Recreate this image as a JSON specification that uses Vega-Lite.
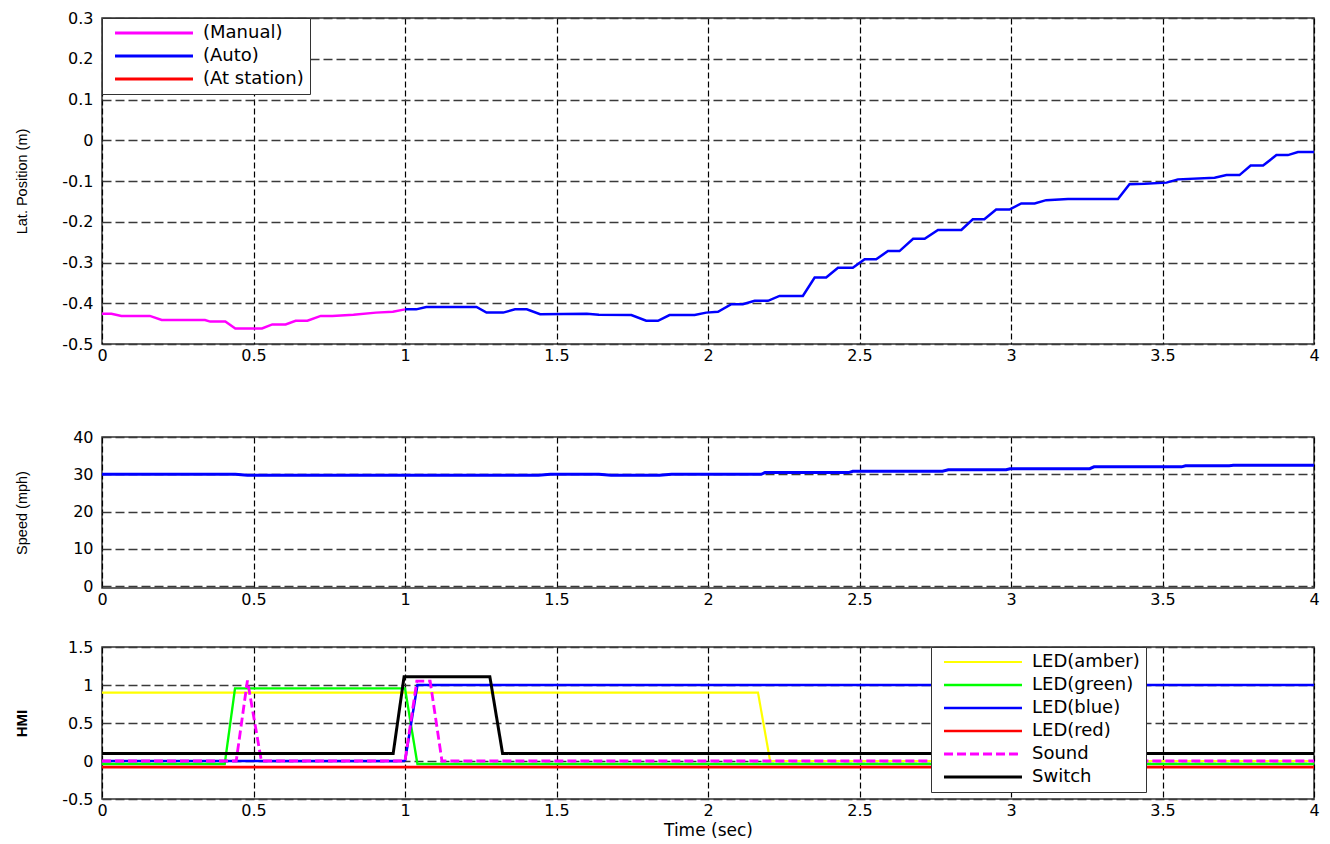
{
  "$schema": "https://vega.github.io/schema/vega-lite/v6.json",
  "background": "white",
  "padding": {"left": 13, "top": 9, "right": 10, "bottom": 2},
  "bounds": "flush",
  "spacing": 93,
  "resolve": {"scale": {"color": "independent"}, "legend": {"color": "independent"}},
  "config": {
    "font": "DejaVu Sans",
    "view": {"stroke": "#333333", "strokeWidth": 1.5},
    "axis": {
      "grid": true, "domain": false, "ticks": false,
      "labelFont": "DejaVu Sans", "labelFontSize": 16, "labelColor": "#000000",
      "labelOverlap": false, "labelFlush": false,
      "titleFont": "Liberation Sans", "titleFontSize": 14.5, "titleFontWeight": "normal", "titleColor": "#000000"
    },
    "axisX": {"gridColor": "#000000", "gridDash": [6, 3], "gridWidth": 1.2, "labelPadding": 3},
    "axisY": {"gridColor": "#3a3a3a", "gridDash": [9, 4], "gridWidth": 1.5, "labelPadding": 9, "minExtent": 50, "maxExtent": 50, "titlePadding": 23},
    "legend": {
      "title": null, "strokeColor": "#333333", "fillColor": "#ffffff", "padding": 6,
      "symbolType": "M-8,0H8", "symbolSize": 95, "symbolStrokeWidth": 3, "symbolOffset": 37,
      "labelFont": "DejaVu Sans", "labelFontSize": 18, "labelColor": "#000000", "labelOffset": 40,
      "rowPadding": 5, "labelLimit": 300
    }
  },
  "datasets": {
    "lat": [
      {"t": 0, "v": -0.426, "mode": "(Manual)"},
      {"t": 0.031, "v": -0.426, "mode": "(Manual)"},
      {"t": 0.064, "v": -0.431, "mode": "(Manual)"},
      {"t": 0.158, "v": -0.431, "mode": "(Manual)"},
      {"t": 0.197, "v": -0.441, "mode": "(Manual)"},
      {"t": 0.34, "v": -0.441, "mode": "(Manual)"},
      {"t": 0.357, "v": -0.445, "mode": "(Manual)"},
      {"t": 0.407, "v": -0.445, "mode": "(Manual)"},
      {"t": 0.44, "v": -0.462, "mode": "(Manual)"},
      {"t": 0.528, "v": -0.462, "mode": "(Manual)"},
      {"t": 0.562, "v": -0.452, "mode": "(Manual)"},
      {"t": 0.606, "v": -0.452, "mode": "(Manual)"},
      {"t": 0.639, "v": -0.443, "mode": "(Manual)"},
      {"t": 0.678, "v": -0.443, "mode": "(Manual)"},
      {"t": 0.722, "v": -0.431, "mode": "(Manual)"},
      {"t": 0.76, "v": -0.431, "mode": "(Manual)"},
      {"t": 0.83, "v": -0.428, "mode": "(Manual)"},
      {"t": 0.904, "v": -0.423, "mode": "(Manual)"},
      {"t": 0.96, "v": -0.421, "mode": "(Manual)"},
      {"t": 1.0, "v": -0.415, "mode": "(Manual)"},
      {"t": 1.0, "v": -0.415, "mode": "(Auto)"},
      {"t": 1.037, "v": -0.415, "mode": "(Auto)"},
      {"t": 1.07, "v": -0.409, "mode": "(Auto)"},
      {"t": 1.236, "v": -0.409, "mode": "(Auto)"},
      {"t": 1.269, "v": -0.423, "mode": "(Auto)"},
      {"t": 1.324, "v": -0.423, "mode": "(Auto)"},
      {"t": 1.363, "v": -0.415, "mode": "(Auto)"},
      {"t": 1.402, "v": -0.415, "mode": "(Auto)"},
      {"t": 1.446, "v": -0.427, "mode": "(Auto)"},
      {"t": 1.6, "v": -0.426, "mode": "(Auto)"},
      {"t": 1.64, "v": -0.428, "mode": "(Auto)"},
      {"t": 1.747, "v": -0.429, "mode": "(Auto)"},
      {"t": 1.796, "v": -0.443, "mode": "(Auto)"},
      {"t": 1.835, "v": -0.443, "mode": "(Auto)"},
      {"t": 1.873, "v": -0.429, "mode": "(Auto)"},
      {"t": 1.956, "v": -0.429, "mode": "(Auto)"},
      {"t": 1.994, "v": -0.423, "mode": "(Auto)"},
      {"t": 2.033, "v": -0.421, "mode": "(Auto)"},
      {"t": 2.077, "v": -0.4025, "mode": "(Auto)"},
      {"t": 2.115, "v": -0.4025, "mode": "(Auto)"},
      {"t": 2.154, "v": -0.394, "mode": "(Auto)"},
      {"t": 2.198, "v": -0.394, "mode": "(Auto)"},
      {"t": 2.236, "v": -0.382, "mode": "(Auto)"},
      {"t": 2.313, "v": -0.382, "mode": "(Auto)"},
      {"t": 2.352, "v": -0.337, "mode": "(Auto)"},
      {"t": 2.39, "v": -0.337, "mode": "(Auto)"},
      {"t": 2.429, "v": -0.313, "mode": "(Auto)"},
      {"t": 2.478, "v": -0.313, "mode": "(Auto)"},
      {"t": 2.517, "v": -0.292, "mode": "(Auto)"},
      {"t": 2.555, "v": -0.292, "mode": "(Auto)"},
      {"t": 2.594, "v": -0.272, "mode": "(Auto)"},
      {"t": 2.632, "v": -0.272, "mode": "(Auto)"},
      {"t": 2.677, "v": -0.242, "mode": "(Auto)"},
      {"t": 2.715, "v": -0.242, "mode": "(Auto)"},
      {"t": 2.759, "v": -0.22, "mode": "(Auto)"},
      {"t": 2.836, "v": -0.22, "mode": "(Auto)"},
      {"t": 2.874, "v": -0.194, "mode": "(Auto)"},
      {"t": 2.912, "v": -0.194, "mode": "(Auto)"},
      {"t": 2.951, "v": -0.17, "mode": "(Auto)"},
      {"t": 2.995, "v": -0.17, "mode": "(Auto)"},
      {"t": 3.034, "v": -0.155, "mode": "(Auto)"},
      {"t": 3.078, "v": -0.155, "mode": "(Auto)"},
      {"t": 3.116, "v": -0.147, "mode": "(Auto)"},
      {"t": 3.188, "v": -0.144, "mode": "(Auto)"},
      {"t": 3.353, "v": -0.144, "mode": "(Auto)"},
      {"t": 3.391, "v": -0.108, "mode": "(Auto)"},
      {"t": 3.441, "v": -0.107, "mode": "(Auto)"},
      {"t": 3.513, "v": -0.104, "mode": "(Auto)"},
      {"t": 3.551, "v": -0.096, "mode": "(Auto)"},
      {"t": 3.672, "v": -0.092, "mode": "(Auto)"},
      {"t": 3.711, "v": -0.0855, "mode": "(Auto)"},
      {"t": 3.754, "v": -0.0855, "mode": "(Auto)"},
      {"t": 3.791, "v": -0.062, "mode": "(Auto)"},
      {"t": 3.832, "v": -0.062, "mode": "(Auto)"},
      {"t": 3.876, "v": -0.0365, "mode": "(Auto)"},
      {"t": 3.914, "v": -0.0365, "mode": "(Auto)"},
      {"t": 3.947, "v": -0.029, "mode": "(Auto)"},
      {"t": 4.0, "v": -0.029, "mode": "(Auto)"}
    ],
    "speed": [
      {"t": 0, "s": 30},
      {"t": 0.44, "s": 30},
      {"t": 0.48, "s": 29.75},
      {"t": 1.44, "s": 29.75},
      {"t": 1.48, "s": 30},
      {"t": 1.64, "s": 30},
      {"t": 1.68, "s": 29.75},
      {"t": 1.84, "s": 29.75},
      {"t": 1.88, "s": 30},
      {"t": 2.175, "s": 30},
      {"t": 2.188, "s": 30.45},
      {"t": 2.464, "s": 30.45},
      {"t": 2.478, "s": 30.8},
      {"t": 2.774, "s": 30.8},
      {"t": 2.793, "s": 31.2},
      {"t": 2.984, "s": 31.2},
      {"t": 2.997, "s": 31.5},
      {"t": 3.26, "s": 31.5},
      {"t": 3.274, "s": 32.0},
      {"t": 3.563, "s": 32.0},
      {"t": 3.576, "s": 32.3},
      {"t": 3.72, "s": 32.3},
      {"t": 3.734, "s": 32.4},
      {"t": 4.0, "s": 32.4}
    ],
    "hmi": [
      {"t": 0, "v": 0.9, "sig": "LED(amber)"},
      {"t": 2.165, "v": 0.9, "sig": "LED(amber)"},
      {"t": 2.205, "v": 0, "sig": "LED(amber)"},
      {"t": 4, "v": 0, "sig": "LED(amber)"},
      {"t": 0, "v": -0.04, "sig": "LED(green)"},
      {"t": 0.405, "v": -0.04, "sig": "LED(green)"},
      {"t": 0.439, "v": 0.955, "sig": "LED(green)"},
      {"t": 1.0, "v": 0.955, "sig": "LED(green)"},
      {"t": 1.041, "v": -0.04, "sig": "LED(green)"},
      {"t": 4, "v": -0.04, "sig": "LED(green)"},
      {"t": 0, "v": 0, "sig": "LED(blue)"},
      {"t": 1.0, "v": 0, "sig": "LED(blue)"},
      {"t": 1.041, "v": 1, "sig": "LED(blue)"},
      {"t": 4, "v": 1, "sig": "LED(blue)"},
      {"t": 0, "v": -0.08, "sig": "LED(red)"},
      {"t": 4, "v": -0.08, "sig": "LED(red)"},
      {"t": 0, "v": 0, "sig": "Sound"},
      {"t": 0.443, "v": 0, "sig": "Sound"},
      {"t": 0.48, "v": 1.06, "sig": "Sound"},
      {"t": 0.526, "v": 0, "sig": "Sound"},
      {"t": 1.0, "v": 0, "sig": "Sound"},
      {"t": 1.039, "v": 1.05, "sig": "Sound"},
      {"t": 1.083, "v": 1.05, "sig": "Sound"},
      {"t": 1.122, "v": 0, "sig": "Sound"},
      {"t": 4, "v": 0, "sig": "Sound"},
      {"t": 0, "v": 0.1, "sig": "Switch"},
      {"t": 0.961, "v": 0.1, "sig": "Switch"},
      {"t": 0.997, "v": 1.11, "sig": "Switch"},
      {"t": 1.28, "v": 1.11, "sig": "Switch"},
      {"t": 1.322, "v": 0.1, "sig": "Switch"},
      {"t": 4, "v": 0.1, "sig": "Switch"}
    ]
  },
  "vconcat": [
    {
      "width": 1212,
      "height": 326,
      "data": {"name": "lat"},
      "mark": {"type": "line", "strokeWidth": 2.5},
      "encoding": {
        "x": {"field": "t", "type": "quantitative", "scale": {"domain": [0, 4], "nice": false},
              "axis": {"values": [0, 0.5, 1, 1.5, 2, 2.5, 3, 3.5, 4], "labelExpr": "datum.value + ''", "title": null}},
        "y": {"field": "v", "type": "quantitative", "scale": {"domain": [-0.5, 0.3], "nice": false, "zero": false},
              "axis": {"values": [-0.5, -0.4, -0.3, -0.2, -0.1, 0, 0.1, 0.2, 0.3], "labelExpr": "datum.value + ''", "title": "Lat. Position (m)"}},
        "color": {"field": "mode", "type": "nominal",
                  "scale": {"domain": ["(Manual)", "(Auto)", "(At station)"], "range": ["#ff00ff", "#0000ff", "#ff0000"]},
                  "legend": {"orient": "top-left", "offset": 0}}
      }
    },
    {
      "spacing": 59,
      "bounds": "flush",
      "resolve": {
        "scale": {"color": "independent", "strokeDash": "independent", "strokeWidth": "independent"},
        "legend": {"color": "independent", "strokeDash": "independent", "strokeWidth": "independent"}
      },
      "vconcat": [
        {
          "width": 1212,
          "height": 151,
          "data": {"name": "speed"},
          "mark": {"type": "line", "strokeWidth": 3, "color": "#0000ff"},
          "encoding": {
            "x": {"field": "t", "type": "quantitative", "scale": {"domain": [0, 4], "nice": false},
                  "axis": {"values": [0, 0.5, 1, 1.5, 2, 2.5, 3, 3.5, 4], "labelExpr": "datum.value + ''", "title": null}},
            "y": {"field": "s", "type": "quantitative", "scale": {"domain": [-0.5, 40], "nice": false, "zero": false},
                  "axis": {"values": [0, 10, 20, 30, 40], "labelExpr": "datum.value + ''", "title": "Speed (mph)"}}
          }
        },
        {
          "width": 1212,
          "height": 152,
          "data": {"name": "hmi"},
          "mark": {"type": "line"},
          "encoding": {
            "x": {"field": "t", "type": "quantitative", "scale": {"domain": [0, 4], "nice": false},
                  "axis": {"values": [0, 0.5, 1, 1.5, 2, 2.5, 3, 3.5, 4], "labelExpr": "datum.value + ''", "title": "Time (sec)",
                           "titleFont": "DejaVu Sans", "titleFontSize": 17, "titlePadding": 4}},
            "y": {"field": "v", "type": "quantitative", "scale": {"domain": [-0.5, 1.5], "nice": false, "zero": false},
                  "axis": {"values": [-0.5, 0, 0.5, 1, 1.5], "labelExpr": "datum.value + ''", "title": "HMI", "titleFontWeight": "bold", "titleFontSize": 15}},
            "color": {"field": "sig", "type": "nominal",
                      "scale": {"domain": ["LED(amber)", "LED(green)", "LED(blue)", "LED(red)", "Sound", "Switch"],
                                "range": ["#ffff00", "#00ff00", "#0000ff", "#ff0000", "#ff00ff", "#000000"]},
                      "legend": {"orient": "none", "legendX": 829, "legendY": 0}},
            "strokeDash": {"field": "sig", "type": "nominal",
                           "scale": {"domain": ["LED(amber)", "LED(green)", "LED(blue)", "LED(red)", "Sound", "Switch"],
                                     "range": [[1, 0], [1, 0], [1, 0], [1, 0], [9, 4], [1, 0]]}},
            "strokeWidth": {"field": "sig", "type": "nominal",
                            "scale": {"domain": ["LED(amber)", "LED(green)", "LED(blue)", "LED(red)", "Sound", "Switch"],
                                      "range": [2.2, 3, 3.5, 3, 3, 3.5]}}
          }
        }
      ]
    }
  ]
}
